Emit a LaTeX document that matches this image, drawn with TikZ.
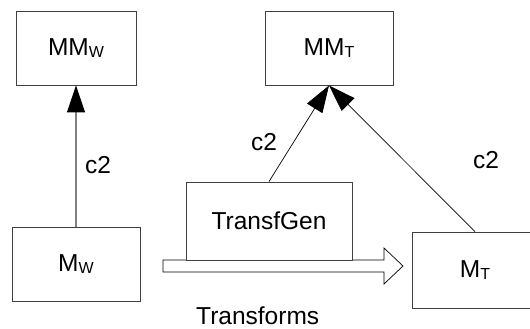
\documentclass[tikz,border=0pt]{standalone}
\usepackage{fontspec}
\setmainfont{Liberation Sans}
\usetikzlibrary{arrows.meta,calc}
\newcommand{\subs}[1]{\raisebox{-2.5pt}{\fontsize{16}{16}\selectfont #1}}
\begin{document}
\begin{tikzpicture}[x=1pt,y=-1pt,
  box/.style={draw=black!75,line width=0.9pt,fill=white,inner sep=0pt,font=\fontsize{24.5}{27}\selectfont},
  lbl/.style={font=\fontsize{24.5}{27}\selectfont,inner sep=0pt},
  inh/.style={-{Triangle[length=27pt,width=18pt,color=black]},line width=0.7pt},
]
\useasboundingbox (0,0) rectangle (530,329);
\node[box,minimum width=120pt,minimum height=74pt] (mmw) at (76,48) {MM\subs{W}};
\node[box,minimum width=128pt,minimum height=74pt] (mmt) at (329,48) {MM\subs{T}};
\node[box,minimum width=128pt,minimum height=74pt] (mw) at (76,264) {M\subs{W}};
\node[box,minimum width=126pt,minimum height=76pt] (mt) at (475,270) {M\subs{T}};
% fat arrow
\coordinate (fa) at (163,266);
\coordinate (fb) at (403,266);
\draw[line width=0.7pt,fill=white] ($(fa)+(0,-6)$) -- ++(221,0) -- ++(0,-12) -- (fb) -- ($(fb)+(-19,18)$) -- ++(0,-12) -- ($(fa)+(0,6)$) -- cycle;
\node[box,minimum width=166pt,minimum height=78pt] (tg) at (269,221) {TransfGen};
\draw[inh,draw=black!50,line width=1.2pt] (mw.north) -- (mmw.south);
\draw[inh] (tg.north) -- (mmt.south);
\draw[inh] (mt.north) -- (mmt.south);
\node[lbl] (c1) at (98,165) {c2};
\node[lbl] (c2l) at (264,142) {c2};
\node[lbl] (c3) at (486,160) {c2};
\node[lbl,anchor=base west] (tr) at (196,324) {Transforms};
\end{tikzpicture}
\end{document}
